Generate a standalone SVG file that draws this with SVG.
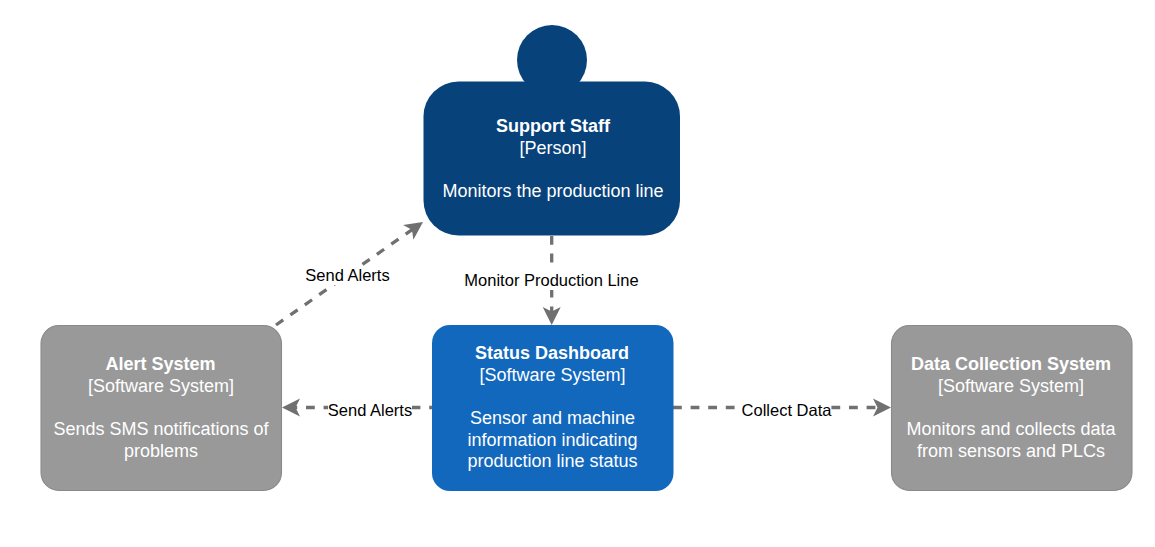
<svg xmlns="http://www.w3.org/2000/svg" width="1155" height="547" viewBox="0 0 1155 547">
<style>
text{font-family:"Liberation Sans",Arial,sans-serif;text-anchor:middle}
.n{font-size:18px;fill:#fff}
.b{font-weight:bold}
.l{font-size:16.5px;fill:#000}
.c{fill:none;stroke:#707070;stroke-width:3.3;stroke-dasharray:8.800 8.800}
.g{fill:#999;stroke:#8a8a8a;stroke-width:1.1}
.lb{fill:#fff}
</style>
<defs>
<marker id="a" markerUnits="userSpaceOnUse" markerWidth="20" markerHeight="20" viewBox="0 0 20 20" refX="8" refY="10" orient="auto"><path d="M0 1L18 10L0 19L4.500 10Z" fill="#707070"/></marker>
</defs>
<rect width="1155" height="547" fill="#fff"/>
<g id="connectors">
<path class="c" marker-end="url(#a)" d="M276 325L414.800 227.700"/>
<path class="c" marker-end="url(#a)" d="M551.700 236V315"/>
<path class="c" marker-end="url(#a)" d="M432 407.500H292" stroke-dashoffset="6"/>
<path class="c" marker-end="url(#a)" d="M673 407.500H881"/>
<rect class="lb" x="305" y="266" width="85" height="19"/>
<rect class="lb" x="464" y="271" width="175" height="19"/>
<rect class="lb" x="328" y="401" width="84" height="19"/>
<rect class="lb" x="742" y="401" width="89" height="19"/>
<text class="l" x="347.500" y="280.500">Send Alerts</text>
<text class="l" x="551.500" y="285.500">Monitor Production Line</text>
<text class="l" x="370" y="415.500">Send Alerts</text>
<text class="l" x="786.500" y="415.500">Collect Data</text>
</g>
<g id="support-staff">
<circle cx="552" cy="60" r="35" fill="#08427b"/>
<rect x="423.500" y="81.500" width="256.500" height="154" rx="35" fill="#08427b"/>
<text class="n b" x="553" y="132">Support Staff</text>
<text class="n" x="553" y="154">[Person]</text>
<text class="n" x="553" y="197">Monitors the production line</text>
</g>
<g id="status-dashboard">
<rect x="432" y="325" width="241.500" height="166" rx="18" fill="#1168bd"/>
<text class="n b" x="552" y="359">Status Dashboard</text>
<text class="n" x="552.500" y="381">[Software System]</text>
<text class="n" x="552.500" y="424">Sensor and machine</text>
<text class="n" x="552.500" y="446">information indicating</text>
<text class="n" x="552.500" y="467">production line status</text>
</g>
<g id="alert-system">
<rect class="g" x="41" y="325.500" width="240.500" height="165" rx="18"/>
<text class="n b" x="160.500" y="370">Alert System</text>
<text class="n" x="161" y="392">[Software System]</text>
<text class="n" x="161" y="435">Sends SMS notifications of</text>
<text class="n" x="161" y="457">problems</text>
</g>
<g id="data-collection-system">
<rect class="g" x="891.500" y="325.500" width="240.500" height="165" rx="18"/>
<text class="n b" x="1011" y="370">Data Collection System</text>
<text class="n" x="1011" y="392">[Software System]</text>
<text class="n" x="1011" y="435">Monitors and collects data</text>
<text class="n" x="1011" y="457">from sensors and PLCs</text>
</g>
</svg>
